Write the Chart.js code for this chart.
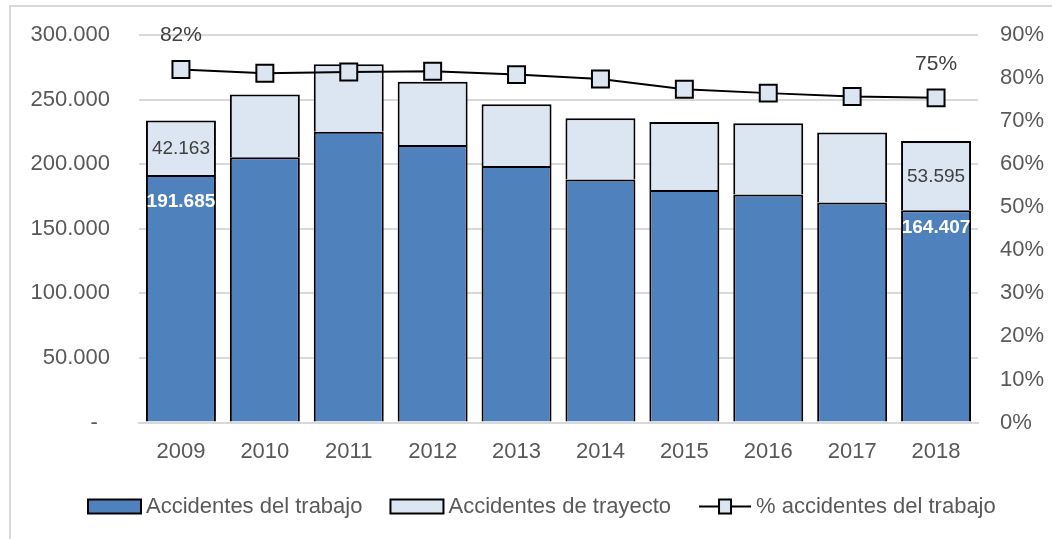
<!DOCTYPE html>
<html>
<head>
<meta charset="utf-8">
<script src="https://cdn.jsdelivr.net/npm/chart.js@4.4.0/dist/chart.umd.min.js"></script>
<style>
html,body{margin:0;padding:0;background:#fff;overflow:hidden;}
#wrap{position:relative;width:1052px;height:539px;overflow:hidden;}
#frame{position:absolute;left:9px;top:5px;width:1200px;height:700px;border-left:2px solid #D9D9D9;border-top:2px solid #D9D9D9;}
canvas{position:absolute;left:0;top:0;}
</style>
</head>
<body>
<div id="wrap"><div id="frame"></div><canvas id="c" width="1052" height="539"></canvas></div>
<script>
// ---- data ----
const years = ['2009','2010','2011','2012','2013','2014','2015','2016','2017','2018'];
const trabajo = [191685, 205300, 225100, 214800, 198500, 188200, 180000, 176600, 170400, 164407];
const trayecto = [42163, 48700, 52200, 49000, 47800, 47300, 52600, 55000, 54200, 53595];
const pctTrabajo = [0.820, 0.811, 0.814, 0.816, 0.808, 0.798, 0.774, 0.765, 0.757, 0.754];
const labeledIdx = [0, 9];

const FONT = '"Liberation Sans", Arial, sans-serif';
const GREY = '#595959';
const DARK = '#4F81BD';
const LIGHT = '#DCE6F2';
const PLOT_TOP = 35;

const fmtNum = v => v === 0 ? '-  ' : String(Math.round(v)).replace(/\B(?=(\d{3})+(?!\d))/g, '.');
const fmtPct = v => Math.round(v * 100) + '%';

// force the plot area's top edge
const areaPlugin = {
  id: 'areaTop',
  afterLayout(chart) {
    const ca = chart.chartArea;
    ['y', 'y1'].forEach(id => {
      const s = chart.scales[id];
      s.top = PLOT_TOP;
      s.height = s.bottom - PLOT_TOP;
      s.configure();
    });
    ca.top = PLOT_TOP;
    ca.height = ca.bottom - PLOT_TOP;
  }
};

const labelPlugin = {
  id: 'labels',
  afterDatasetsDraw(chart) {
    const ctx = chart.ctx;
    const m0 = chart.getDatasetMeta(0), m1 = chart.getDatasetMeta(1), m2 = chart.getDatasetMeta(2);
    const whiteOffsets = [27, 18];
    ctx.save();
    ctx.textAlign = 'center';
    ctx.textBaseline = 'middle';
    labeledIdx.forEach((i, k) => {
      const b0 = m0.data[i], b1 = m1.data[i], p = m2.data[i];
      ctx.font = 'bold 19px ' + FONT;
      ctx.fillStyle = '#FFFFFF';
      ctx.fillText(fmtNum(trabajo[i]), b0.x, b0.y + whiteOffsets[k]);
      ctx.font = '19px ' + FONT;
      ctx.fillStyle = '#404040';
      ctx.fillText(fmtNum(trayecto[i]), b1.x, (b1.y + b1.base) / 2 + 1);
      ctx.font = '21px ' + FONT;
      ctx.fillText(fmtPct(pctTrabajo[i]), p.x, p.y - 34);
    });
    ctx.restore();
  }
};

const legendPlugin = {
  id: 'customLegend',
  afterDraw(chart) {
    const ctx = chart.ctx;
    const ds = chart.data.datasets;
    const cy = 506.5;
    let x = 88;
    ctx.save();
    ctx.font = '22px ' + FONT;
    ctx.textBaseline = 'middle';
    ctx.textAlign = 'left';
    ds.forEach((d) => {
      if (d.type === 'line') {
        ctx.strokeStyle = '#000';
        ctx.lineWidth = 2;
        ctx.beginPath();
        ctx.moveTo(x, cy); ctx.lineTo(x + 52, cy); ctx.stroke();
        ctx.fillStyle = LIGHT;
        ctx.fillRect(x + 20, cy - 7, 12, 14);
        ctx.strokeRect(x + 20, cy - 7, 12, 14);
        x += 52 + 5;
      } else {
        ctx.fillStyle = d.backgroundColor;
        ctx.fillRect(x, cy - 7, 53, 14);
        ctx.strokeStyle = '#000';
        ctx.lineWidth = 2;
        ctx.strokeRect(x, cy - 7, 53, 14);
        x += 53 + 5;
      }
      ctx.fillStyle = GREY;
      ctx.fillText(d.label, x, cy);
      x += ctx.measureText(d.label).width + 28;
    });
    ctx.restore();
  }
};

new Chart(document.getElementById('c'), {
  data: {
    labels: years,
    datasets: [
      { type: 'bar', label: 'Accidentes del trabajo', data: trabajo, backgroundColor: DARK, borderColor: '#000', borderWidth: 2, yAxisID: 'y', stack: 's', order: 2, barPercentage: 0.834, categoryPercentage: 1 },
      { type: 'bar', label: 'Accidentes de trayecto', data: trayecto, backgroundColor: LIGHT, borderColor: '#000', borderWidth: 2, yAxisID: 'y', stack: 's', order: 2, barPercentage: 0.834, categoryPercentage: 1 },
      { type: 'line', label: '% accidentes del trabajo', data: pctTrabajo, yAxisID: 'y1', borderColor: '#000', borderWidth: 2, pointStyle: 'rect', pointRadius: 12, pointHoverRadius: 12, pointBackgroundColor: LIGHT, pointBorderColor: '#000', pointBorderWidth: 2, order: 1, tension: 0 }
    ]
  },
  options: {
    responsive: false,
    animation: false,
    devicePixelRatio: 1,
    layout: { autoPadding: false, padding: { top: 35, bottom: 0, left: 0, right: 0 } },
    plugins: { legend: { display: false }, tooltip: { enabled: false } },
    scales: {
      x: {
        stacked: true,
        grid: { display: false, drawTicks: false },
        border: { display: true, color: '#D9D9D9', width: 2 },
        ticks: { font: { family: FONT, size: 22 }, color: GREY, padding: 16 },
        afterFit(s) { s.height = 116.5; }
      },
      y: {
        stacked: true,
        position: 'left',
        min: 0, max: 300000,
        ticks: { stepSize: 50000, callback: v => fmtNum(v), font: { family: FONT, size: 22 }, color: GREY, padding: 29 },
        grid: { color: '#D9D9D9', lineWidth: 2, drawTicks: false },
        border: { display: false },
        afterFit(s) { s.width = 139; }
      },
      y1: {
        position: 'right',
        min: 0, max: 0.9,
        ticks: { stepSize: 0.1, callback: v => fmtPct(v), font: { family: FONT, size: 22 }, color: GREY, padding: 22 },
        grid: { display: false, drawTicks: false },
        border: { display: false },
        afterFit(s) { s.width = 74; }
      }
    }
  },
  plugins: [areaPlugin, labelPlugin, legendPlugin]
});
</script>
</body>
</html>
